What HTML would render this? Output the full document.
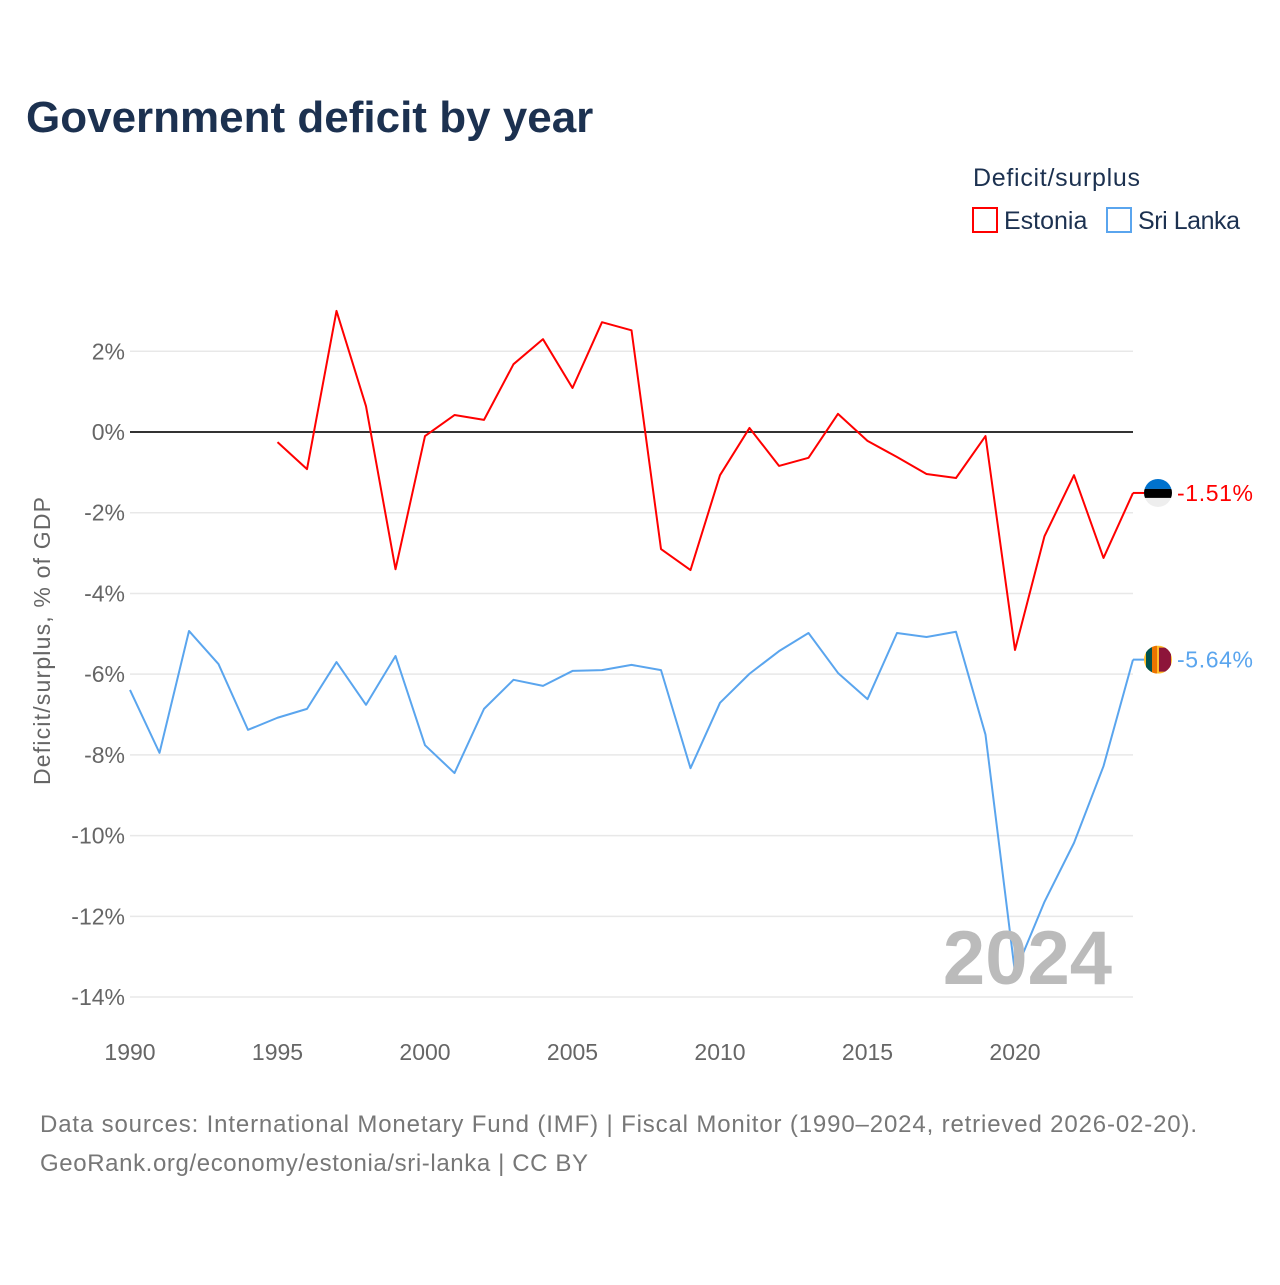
<!DOCTYPE html>
<html><head><meta charset="utf-8">
<style>
html,body{margin:0;padding:0;background:#fff;}
body{width:1280px;height:1280px;overflow:hidden;font-family:"Liberation Sans",sans-serif;}
</style></head>
<body>
<svg id="chart" width="1280" height="1280" xmlns="http://www.w3.org/2000/svg" font-family="Liberation Sans, sans-serif">
<text x="26" y="132" font-size="44" font-weight="bold" fill="#1c3150">Government deficit by year</text>
<text x="973" y="186" font-size="25" fill="#1c3150" textLength="167">Deficit/surplus</text>
<g>
<rect x="973" y="208" width="24" height="24" fill="none" stroke="#ff0000" stroke-width="2"/>
<text x="1004" y="229" font-size="25" fill="#1c3150">Estonia</text></g>
<g>
<rect x="1107" y="208" width="24" height="24" fill="none" stroke="#5aa5ee" stroke-width="2"/>
<text x="1138" y="229" font-size="25" fill="#1c3150" textLength="102">Sri Lanka</text></g>
<text transform="translate(50,641) rotate(-90)" text-anchor="middle" font-size="23" fill="#666" textLength="288">Deficit/surplus, % of GDP</text>
<g id="grid"></g><g id="series"></g>
<text x="1112" y="984" text-anchor="end" font-size="76" font-weight="bold" fill="#bbb">2024</text>
<text x="40" y="1132" font-size="24" fill="#777" textLength="1157">Data sources: International Monetary Fund (IMF) | Fiscal Monitor (1990–2024, retrieved 2026-02-20).</text>
<text x="40" y="1171" font-size="24" fill="#777" textLength="548">GeoRank.org/economy/estonia/sri-lanka | CC BY</text>
</svg>
<script>
const estYears=[1995,1996,1997,1998,1999,2000,2001,2002,2003,2004,2005,2006,2007,2008,2009,2010,2011,2012,2013,2014,2015,2016,2017,2018,2019,2020,2021,2022,2023,2024];
const estonia=[-0.25,-0.92,3.0,0.64,-3.4,-0.1,0.42,0.3,1.68,2.3,1.09,2.72,2.52,-2.9,-3.42,-1.07,0.1,-0.84,-0.64,0.45,-0.22,-0.62,-1.04,-1.14,-0.1,-5.4,-2.58,-1.07,-3.12,-1.51];
const lkaYears=[1990,1991,1992,1993,1994,1995,1996,1997,1998,1999,2000,2001,2002,2003,2004,2005,2006,2007,2008,2009,2010,2011,2012,2013,2014,2015,2016,2017,2018,2019,2020,2021,2022,2023,2024];
const sriLanka=[-6.39,-7.95,-4.93,-5.75,-7.38,-7.08,-6.86,-5.7,-6.76,-5.55,-7.76,-8.45,-6.86,-6.14,-6.29,-5.92,-5.9,-5.77,-5.9,-8.33,-6.71,-5.99,-5.43,-4.98,-5.97,-6.62,-4.98,-5.08,-4.95,-7.5,-13.4,-11.64,-10.18,-8.28,-5.64];
const yTicks=[2,0,-2,-4,-6,-8,-10,-12,-14];
const xTicks=[1990,1995,2000,2005,2010,2015,2020];
const NS="http://www.w3.org/2000/svg";
const xs=y=>130+(y-1990)*(1133-130)/34;
const ys=v=>432-v*40.36;
function mk(tag,attrs,parent){const e=document.createElementNS(NS,tag);for(const k in attrs)e.setAttribute(k,attrs[k]);parent.appendChild(e);return e;}
const grid=document.getElementById('grid'),ser=document.getElementById('series');
yTicks.forEach(t=>{
 const l=mk('line',{x1:130,x2:1133,y1:ys(t),y2:ys(t),stroke:t===0?'#333':'#e8e8e8','stroke-width':t===0?2:1.5},grid);
 
 
 const tx=mk('text',{x:125,y:ys(t)+8,'text-anchor':'end','font-size':23,fill:'#666'},grid);
 tx.textContent=t+'%';
 
 
});
xTicks.forEach(t=>{
 const tx=mk('text',{x:xs(t),y:1060,'text-anchor':'middle','font-size':23,fill:'#666'},grid);
 tx.textContent=t;
 
 
});
function line(years,vals,color,name){
 const p=mk('polyline',{points:years.map((y,i)=>xs(y)+','+ys(vals[i])).join(' '),fill:'none',stroke:color,'stroke-width':2,'stroke-linejoin':'round'},ser);
 
 
 const last=vals[vals.length-1],ly=ys(last),lx=xs(years[years.length-1]);
 mk('line',{x1:lx,x2:1144,y1:ly,y2:ly,stroke:color,'stroke-width':2},ser);
 const lab=mk('text',{x:1177,y:ly+8,'font-size':23,fill:color,textLength:76},ser);
 lab.textContent=last.toFixed(2)+'%';
 
 
 return ly;
}
const ey=line(estYears,estonia,'#ff0000','estonia-line');
const sy=line(lkaYears,sriLanka,'#5aa5ee','sri-lanka-line');
const f1=mk('g',{},ser);


const cp1=mk('clipPath',{id:'c1'},f1);mk('circle',{cx:1158,cy:ey,r:14},cp1);
const g1=mk('g',{'clip-path':'url(#c1)'},f1);
mk('rect',{x:1144,y:ey-14,width:28,height:10,fill:'#0072ce'},g1);
mk('rect',{x:1144,y:ey-4,width:28,height:9,fill:'#000'},g1);
mk('rect',{x:1144,y:ey+5,width:28,height:10,fill:'#eee'},g1);
const f2=mk('g',{},ser);


const cp2=mk('clipPath',{id:'c2'},f2);mk('circle',{cx:1158,cy:sy,r:14},cp2);
const g2=mk('g',{'clip-path':'url(#c2)'},f2);
mk('rect',{x:1144,y:sy-14,width:28,height:28,fill:'#ffbe29'},g2);
mk('rect',{x:1146,y:sy-14,width:6,height:28,fill:'#00534e'},g2);
mk('rect',{x:1152,y:sy-14,width:5,height:28,fill:'#eb7400'},g2);
mk('rect',{x:1159,y:sy-12,width:12,height:24,fill:'#8d153a'},g2);
</script>
</body></html>
